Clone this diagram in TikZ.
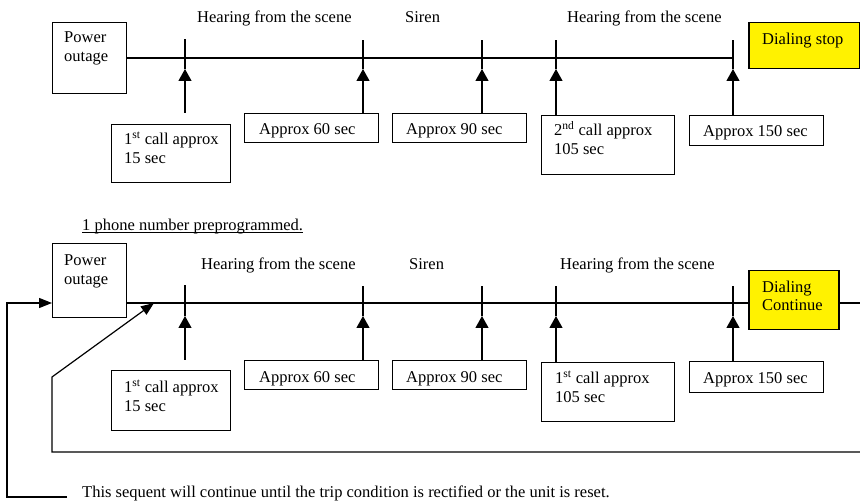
\documentclass[tikz,border=0pt]{standalone}
\usepackage{fontspec}
\setmainfont{Liberation Serif}
\usetikzlibrary{arrows.meta,calc}
\newcommand{\fsz}{\fontsize{16.5}{19}\selectfont}
\begin{document}
\begin{tikzpicture}[x=1pt,y=-1pt,
  box/.style={draw, line width=1.2pt, inner sep=0pt, anchor=north west},
  hbox/.style={box, fill=yellow, line width=1.5pt},
  txt/.style={anchor=base west, inner sep=0pt, font=\fsz},
  ln/.style={line width=1.2pt},
  uparrow/.style={ln, -{Triangle[width=13pt,length=12pt]}},
  looparrow/.style={ln, -{Triangle[width=10pt,length=13pt]}}]
\useasboundingbox (0,0) rectangle (860,502);

% ---------- top sequence ----------
\node[box, minimum width=74pt, minimum height=71pt] (po1) at (52,22) {};
\node[box, minimum width=119pt, minimum height=58pt] (b1) at (111,124) {};
\node[box, minimum width=134pt, minimum height=29pt] (b2) at (244,113) {};
\node[box, minimum width=134pt, minimum height=29pt] (b3) at (392,113) {};
\node[box, minimum width=133pt, minimum height=59pt] (b4) at (541,115) {};
\node[box, minimum width=134pt, minimum height=30pt] (b5) at (689,115) {};
\node[hbox, minimum width=111pt, minimum height=46pt] (ds) at (748,22) {};

\node[txt] (h1) at (197,23) {Hearing from the scene};
\node[txt] (s1) at (405,23) {Siren};
\node[txt] (h2) at (567,23) {Hearing from the scene};

\node[txt] (po1a) at (64,43) {Power};
\node[txt] (po1b) at (64,62) {outage};
\node[txt] (b1a) at (124,144.5) {1\textsuperscript{st} call approx};
\node[txt] (b1b) at (124,163.5) {15 sec};
\node[txt] (b2a) at (259,134.5) {Approx 60 sec};
\node[txt] (b3a) at (406,134.5) {Approx 90 sec};
\node[txt] (b4a) at (554,135.5) {2\textsuperscript{nd} call approx};
\node[txt] (b4b) at (554,155) {105 sec};
\node[txt] (b5a) at (703,137) {Approx 150 sec};
\node[txt] (dsa) at (762,44.5) {Dialing stop};

% timeline top
\coordinate (ta1) at (185,39);  \coordinate (tp1) at (185,69);
\coordinate (ta2) at (363,40);  \coordinate (tp2) at (363,69);
\coordinate (ta3) at (482,40);  \coordinate (tp3) at (482,69);
\coordinate (ta4) at (556,40);  \coordinate (tp4) at (556,69);
\coordinate (ta5) at (733,40);  \coordinate (tp5) at (733,69);
\draw[ln] (po1.east) -- (po1.east -| ta5);
\draw[uparrow] ([yshift=11pt]b1.north -| ta1) -- (tp1);
\draw[ln] (tp1) -- (ta1);
\draw[uparrow] (b2.north -| ta2) -- (tp2);
\draw[ln] (tp2) -- (ta2);
\draw[uparrow] (b3.north -| ta3) -- (tp3);
\draw[ln] (tp3) -- (ta3);
\draw[uparrow] (b4.north -| ta4) -- (tp4);
\draw[ln] (tp4) -- (ta4);
\draw[uparrow] (b5.north -| ta5) -- (tp5);
\draw[ln] (tp5) -- (ta5);

% ---------- bottom sequence ----------
\node[txt] (ph) at (82,230.5) {1 phone number preprogrammed.};
\draw[line width=0.9pt] ([yshift=-2pt]ph.base west) -- ([yshift=-2pt]ph.base east);

\node[box, minimum width=74pt, minimum height=74pt] (po2) at (52,243) {};
\node[box, minimum width=119pt, minimum height=60pt] (c1) at (111,370) {};
\node[box, minimum width=134pt, minimum height=29pt] (c2) at (244,360) {};
\node[box, minimum width=134pt, minimum height=29pt] (c3) at (392,360) {};
\node[box, minimum width=133pt, minimum height=59pt] (c4) at (541,362) {};
\node[box, minimum width=134pt, minimum height=31pt] (c5) at (689,361) {};
\node[hbox, minimum width=90pt, minimum height=59pt] (dc) at (748,270) {};

\node[txt] (h3) at (201,270) {Hearing from the scene};
\node[txt] (s2) at (409,270) {Siren};
\node[txt] (h4) at (560,270) {Hearing from the scene};

\node[txt] (po2a) at (64,266) {Power};
\node[txt] (po2b) at (64,285) {outage};
\node[txt] (c1a) at (124,393) {1\textsuperscript{st} call approx};
\node[txt] (c1b) at (124,412) {15 sec};
\node[txt] (c2a) at (259,382.5) {Approx 60 sec};
\node[txt] (c3a) at (406,382.5) {Approx 90 sec};
\node[txt] (c4a) at (555,384) {1\textsuperscript{st} call approx};
\node[txt] (c4b) at (555,403) {105 sec};
\node[txt] (c5a) at (703,383.5) {Approx 150 sec};
\node[txt] (dca) at (762,292.5) {Dialing};
\node[txt] (dcb) at (762,310.5) {Continue};

\coordinate (tl) at (0,303);
\coordinate (tlr) at (860,303);
\draw[ln] (po2.east |- tl) -- (dc.west |- tl);
\draw[ln] (dc.east |- tl) -- (tlr);

\coordinate (ua1) at (185,285);  \coordinate (up1) at (185,316);
\coordinate (ua2) at (363,286);  \coordinate (up2) at (363,316);
\coordinate (ua3) at (482,286);  \coordinate (up3) at (482,316);
\coordinate (ua4) at (556,286);  \coordinate (up4) at (556,316);
\coordinate (ua5) at (733,286);  \coordinate (up5) at (733,316);
\draw[uparrow] ([yshift=10pt]c1.north -| ua1) -- (up1);
\draw[ln] (up1) -- (ua1);
\draw[uparrow] (c2.north -| ua2) -- (up2);
\draw[ln] (up2) -- (ua2);
\draw[uparrow] (c3.north -| ua3) -- (up3);
\draw[ln] (up3) -- (ua3);
\draw[uparrow] (c4.north -| ua4) -- (up4);
\draw[ln] (up4) -- (ua4);
\draw[uparrow] (c5.north -| ua5) -- (up5);
\draw[ln] (up5) -- (ua5);

% feedback loops
\coordinate (r1) at (862,452);
\coordinate (k1) at (52,452);
\coordinate (k2) at (52,377);
\coordinate (k3) at (154,303);
\draw[looparrow] (r1) -- (k1) -- (k2) -- (k3);

\coordinate (o1) at (67,497);
\coordinate (o2) at (7,497);
\coordinate (o3) at (7,303);
\draw[looparrow] (o1) -- (o2) -- (o3) -- (po2.west |- o3);

\node[txt] (note) at (82,497) {This sequent will continue until the trip condition is rectified or the unit is reset.};
\end{tikzpicture}
\end{document}
